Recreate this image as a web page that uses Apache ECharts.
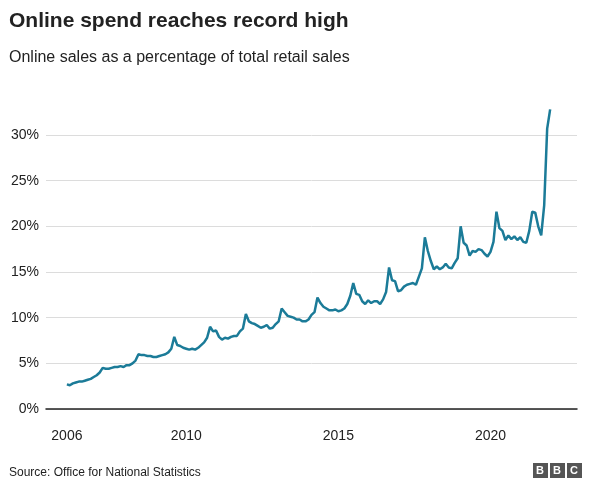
<!DOCTYPE html>
<html><head><meta charset="utf-8">
<script src="https://cdn.jsdelivr.net/npm/echarts@6/dist/echarts.min.js"></script>
<style>html,body{margin:0;padding:0;background:#fff}#c{width:610px;height:494px}</style>
</head><body><div id="c"></div>
<script>
// Monthly values, Nov 2006 .. May 2020 (each block Nov..Oct)
const y2007 = [2.7,2.6,2.8,2.9,3.0,3.0,3.1,3.2,3.3,3.5,3.7,4.0];
const y2008 = [4.5,4.4,4.4,4.5,4.6,4.6,4.7,4.6,4.8,4.8,5.0,5.3];
const y2009 = [6.0,5.9,5.9,5.8,5.8,5.7,5.7,5.8,5.9,6.0,6.2,6.6];
const y2010 = [7.9,7.0,6.9,6.7,6.6,6.5,6.6,6.5,6.7,7.0,7.3,7.8];
const y2011 = [9.0,8.5,8.6,7.9,7.6,7.8,7.7,7.9,8.0,8.0,8.5,8.8];
const y2012 = [10.4,9.6,9.4,9.3,9.1,8.9,9.0,9.2,8.8,8.9,9.3,9.6];
const y2013 = [11.0,10.6,10.2,10.1,10.0,9.8,9.8,9.6,9.6,9.8,10.3,10.6];
const y2014 = [12.2,11.6,11.2,11.0,10.8,10.8,10.9,10.7,10.8,11.0,11.5,12.4];
const y2015 = [13.8,12.6,12.5,11.8,11.5,11.9,11.6,11.8,11.8,11.5,12.0,12.8];
const y2016 = [15.5,14.1,14.0,12.9,13.0,13.4,13.6,13.7,13.8,13.6,14.5,15.4];
const y2017 = [18.8,17.3,16.2,15.3,15.6,15.3,15.5,15.9,15.5,15.4,16.0,16.5];
const y2018 = [20.0,18.2,17.9,16.8,17.3,17.2,17.5,17.4,17.0,16.7,17.2,18.3];
const y2019 = [21.6,19.8,19.5,18.5,19.0,18.6,18.9,18.5,18.8,18.3,18.2,19.5];
const y2020 = [21.6,21.5,20.0,19.0,22.3,30.7,32.8];
const yearLabels = {0:'2006', 40:'2010', 91:'2015', 142:'2020'};
const yTicks = [0,5,10,15,20,25,30];

const values = [].concat(y2007,y2008,y2009,y2010,y2011,y2012,y2013,y2014,y2015,y2016,y2017,y2018,y2019,y2020);
const C = '#1b7b98';
const data = values.map((v,i)=>[i,v]);
const last = data[data.length-1];

const chart = echarts.init(document.getElementById('c'));
chart.setOption({
  animation:false,
  textStyle:{fontFamily:'Liberation Sans'},
  title:[
    {text:'Online spend reaches record high',left:4,top:6,textStyle:{fontSize:21,fontWeight:'bold',color:'#222',fontFamily:'Liberation Sans'}},
    {text:'Online sales as a percentage of total retail sales',left:4,top:45,textStyle:{fontSize:16,fontWeight:'normal',color:'#222',fontFamily:'Liberation Sans'}},
    {text:'Source: Office for National Statistics',left:4,top:462,textStyle:{fontSize:12,fontWeight:'normal',color:'#222',fontFamily:'Liberation Sans'}}
  ],
  graphic:[
    {type:'rect',right:62,top:463,shape:{width:15,height:15},style:{fill:'#555'}},
    {type:'rect',right:45,top:463,shape:{width:15,height:15},style:{fill:'#555'}},
    {type:'rect',right:28,top:463,shape:{width:15,height:15},style:{fill:'#555'}},
    {type:'text',right:66,top:465,style:{text:'B',fill:'#fff',font:'bold 11px Liberation Sans'}},
    {type:'text',right:49,top:465,style:{text:'B',fill:'#fff',font:'bold 11px Liberation Sans'}},
    {type:'text',right:32,top:465,style:{text:'C',fill:'#fff',font:'bold 11px Liberation Sans'}}
  ],
  grid:{left:46,right:33,top:135,bottom:85,containLabel:false},
  xAxis:{type:'value',min:-7,max:171,interval:1,
    axisLine:{show:true,lineStyle:{color:'#222',width:1.5}},
    axisTick:{show:false},splitLine:{show:false},
    axisLabel:{margin:20,color:'#222',fontSize:14,formatter:v=>yearLabels[v]||'',showMinLabel:true,showMaxLabel:true}},
  yAxis:{type:'value',min:0,max:30,interval:5,
    axisLine:{show:false},axisTick:{show:false},
    splitLine:{lineStyle:{color:'#dcdcdc',width:1}},
    axisLabel:{color:'#222',fontSize:14,margin:7,formatter:v=>yTicks.includes(v)?v+'%':''}},
  series:[{type:'line',data:data,clip:false,showSymbol:false,
    lineStyle:{color:C,width:2.5},itemStyle:{color:C},
    markPoint:{symbol:'circle',symbolSize:8,itemStyle:{color:C},
      label:{show:true,position:'top',distance:6,formatter:last[1].toFixed(1)+'%',color:C,fontSize:18,fontWeight:'bold',fontFamily:'Liberation Sans'},
      data:[{coord:last}]}
  }]
});
</script></body></html>
